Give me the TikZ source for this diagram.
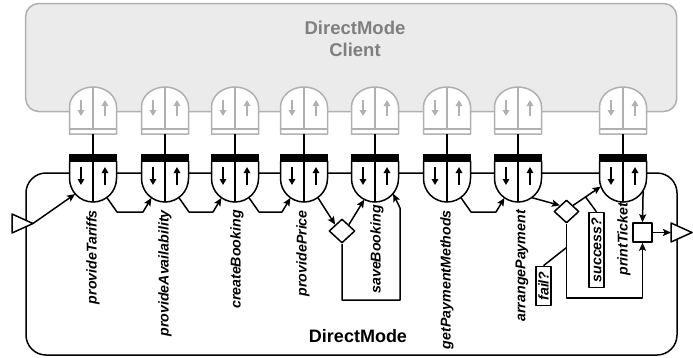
\documentclass[tikz,border=0pt]{standalone}
\usepackage{fontspec}
\setmainfont{Liberation Sans}
\usetikzlibrary{arrows.meta,shapes.geometric,calc}
\definecolor{cbox}{HTML}{EBEBEB}
\definecolor{cline}{HTML}{B0B0B0}
\definecolor{ctext}{HTML}{7F7F7F}
\begin{document}
\begin{tikzpicture}[x=1pt,y=-1pt, line join=round,
  ln/.style={line width=1.5pt},
  arr/.style={line width=1.5pt,-{Stealth[length=8pt,width=7pt,inset=1.5pt]}},
  gport/.style={draw=cline, line width=1.5pt, fill=white},
  garr/.style={draw=cline, line width=1.6pt, -{Triangle[length=6pt,width=6.5pt]}},
  barr/.style={line width=1.6pt, -{Triangle[length=6pt,width=6.5pt]}},
  lbl/.style={rotate=90, anchor=east, inner sep=0pt, font=\fontsize{14.2}{16}\selectfont\bfseries\itshape},
  cond/.style={draw, line width=1.5pt, fill=white, rotate=90, inner xsep=5pt, inner ysep=2.5pt, font=\fontsize{14.2}{16}\selectfont\bfseries\itshape},
  dia/.style={diamond, draw, line width=1.5pt, fill=white, minimum width=26pt, minimum height=24pt, inner sep=0pt},
  anch/.style={circle, minimum size=47pt, inner sep=0pt}
]
\useasboundingbox (0,0) rectangle (693,357);

% client component
\node[draw=cline, fill=cbox, line width=1.5pt, rounded corners=13pt, minimum width=651pt, minimum height=108pt, inner sep=0pt] (client) at (351.2,57.5) {};
\node[text=ctext, font=\fontsize{18.5}{22}\selectfont\bfseries, align=center] (clientlbl) at (355,39) {DirectMode\\Client};

% DirectMode component
\node[draw, line width=1.5pt, rounded corners=20pt, minimum width=651pt, minimum height=182pt, inner sep=0pt] (dm) at (351.5,264) {};
\node[font=\fontsize{18}{22}\selectfont\bfseries] (dmlbl) at (358,336) {DirectMode};

% ports
\foreach \n/\x in {1/93,2/165,3/235,4/304,5/375,6/447,7/518,8/623} {
  % upper (client) port
  \draw[gport] ({\x-23.5},134) -- ({\x-23.5},107) arc[start angle=180, end angle=360, x radius=23.5, y radius=20] -- ({\x+23.5},134) -- cycle;
  \draw[draw=cline, line width=1.5pt] ({\x-23.5},129) -- ({\x+23.5},129);
  \draw[draw=cline, line width=1.5pt] (\x,87) -- (\x,129);
  \draw[garr] ({\x-12},100) -- ({\x-12},116);
  \draw[garr] ({\x+12},116) -- ({\x+12},100);
  % link
  \draw[ln] (\x,134) -- (\x,154);
  % lower (provided) port
  \draw[ln, fill=white] ({\x-23.5},161) -- ({\x-23.5},178.5) arc[start angle=180, end angle=0, radius=23.5] -- ({\x+23.5},161) -- cycle;
  \fill ({\x-24.25},154) rectangle ({\x+24.25},161);
  \draw[ln] (\x,161) -- (\x,202);
  \draw[barr] ({\x-12},167) -- ({\x-12},185);
  \draw[barr] ({\x+12},185) -- ({\x+12},167);
  \node[anch] (p\n) at (\x,178.5) {};
}

% operation labels
\node[lbl] (l1) at (93,210) {provideTariffs};
\node[lbl] (l2) at (165,210) {provideAvailability};
\node[lbl] (l3) at (237,210) {createBooking};
\node[lbl] (l4) at (303,210) {providePrice};
\node[lbl] (l5) at (377,205) {saveBooking};
\node[lbl] (l6) at (447,210) {getPaymentMethods};
\node[lbl] (l7) at (522,210) {arrangePayment};
\node[lbl] (l8) at (624,203) {printTicket};

% start / end triangles
\draw[ln, fill=white] (12,214) -- (33,223.5) -- (12,233) -- cycle;
\coordinate (tinA) at (33,223.5);
\draw[ln, fill=white] (671,223) -- (692,232.5) -- (671,242) -- cycle;
\coordinate (toutB) at (671,232.5);

% decisions, join, guards
\node[dia] (d1) at (342,231) {};
\node[dia, minimum width=25pt, minimum height=23pt] (d2) at (566.5,211.5) {};
\node[draw, line width=1.5pt, fill=white, minimum size=19pt, inner sep=0pt] (sq) at (642.5,232.5) {};
\node[cond] (succ) at (596.5,250) {success?};
\node[cond] (fail) at (543.5,286) {fail?};

% flow
\draw[arr] (tinA) -- (p1.221);
\foreach \a/\b in {1/2,2/3,3/4,6/7} {
  \draw[arr] (p\a.-54) -- ($(p\a.center)+(24,33.5)$) -- ($(p\b.center)+(-22,33.5)$) -- (p\b.235);
}
\draw[arr] (p4.-54) -- (d1.north west);
\draw[arr] (d1.north east) -- (p5.243);
\coordinate (k1) at (400,300);
\draw[arr] (d1.south) -- (d1.south |- k1) -- (k1) -- (400,208) -- (p5.-40);
\draw[arr] (p7.-54) -- (d2.north west);
\draw[arr] (d2.north east) -- coordinate[pos=0.45] (sj) (p8.200);
\draw[ln] (sj) -- (succ.east);
\coordinate (k2) at (566.5,298);
\draw[arr] (d2.south) -- coordinate[pos=0.32] (fj) (k2) -| (sq.south);
\draw[ln] (fail.east) -- (fj);
\draw[arr] (p8.-32) -- (sq.north);
\draw[arr] (sq.east) -- (toutB);
\end{tikzpicture}
\end{document}
